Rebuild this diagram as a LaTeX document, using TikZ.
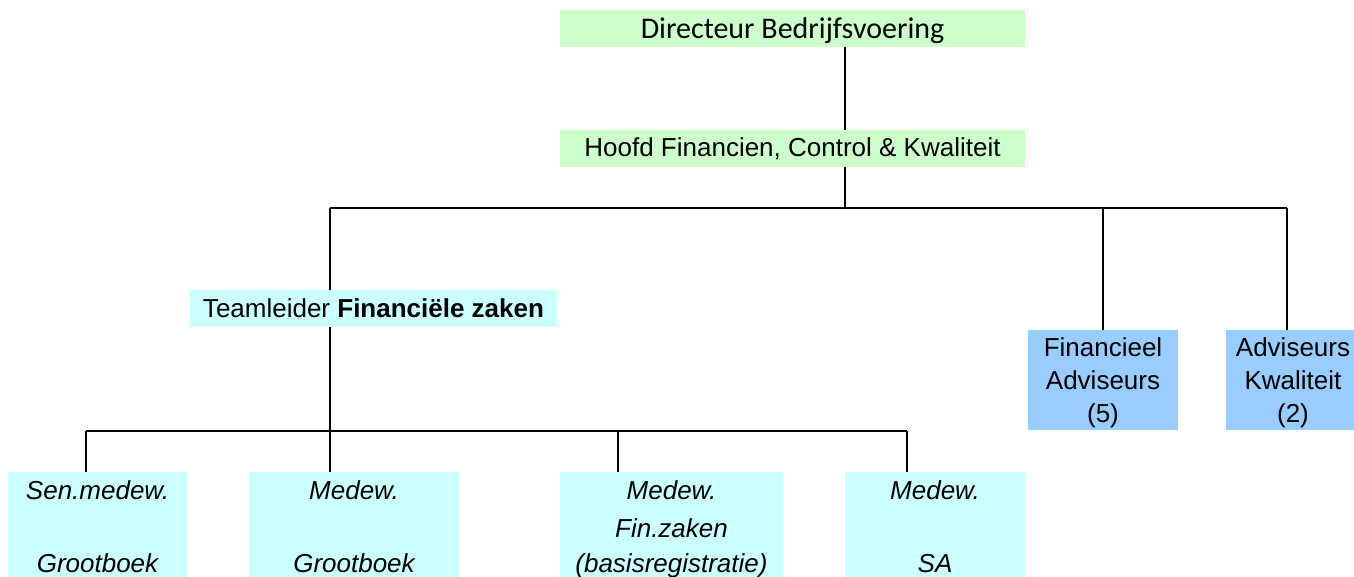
\documentclass[tikz,border=0pt]{standalone}
\usepackage{fontspec}
\setmainfont{Liberation Sans}
\newfontfamily\calfont{Carlito}
\definecolor{lichtgroen}{RGB}{204,255,204}
\definecolor{lichtcyaan}{RGB}{204,255,255}
\definecolor{lichtblauw}{RGB}{153,204,255}
\newcommand\op[1]{\rule{0pt}{#1}}
\begin{document}
\begin{tikzpicture}[x=0.5pt,y=-0.5pt,
  every node/.style={inner sep=0pt,align=center,font=\fontsize{13}{16.5}\selectfont},
  groen/.style={fill=lichtgroen,minimum width=232.5pt,minimum height=18.5pt},
  cyaan/.style={fill=lichtcyaan,minimum height=18.5pt},
  blauw/.style={fill=lichtblauw,minimum height=50pt},
  kop/.style={cyaan,font=\fontsize{13}{17.5}\selectfont\itshape},
  vak/.style={fill=lichtcyaan,minimum height=33pt,font=\fontsize{13}{17.5}\selectfont\itshape},
  lijn/.style={line width=0.8pt}]
\useasboundingbox (0,0) rectangle (1354,577);
\node[groen,font=\fontsize{15}{18}\selectfont\calfont] (dir) at (792.5,28.5) {\op{12.7pt}Directeur Bedrijfsvoering};
\node[groen] (hoofd) at (792.5,148.5) {Hoofd Financien, Control \& Kwaliteit};
\node[cyaan,minimum width=183.5pt] (team) at (373.5,308.5) {Teamleider \textbf{Financiële zaken}};
\node[blauw,minimum width=75pt] (fin) at (1103,380) {\op{12.5pt}Financieel\\Adviseurs\\(5)};
\node[blauw,minimum width=67pt] (kwal) at (1293,380) {\op{12.5pt}Adviseurs\\Kwaliteit\\(2)};
\node[kop,minimum width=89.5pt] (m1) at (97.5,490.5) {Sen.medew.};
\node[kop,minimum width=105pt] (m2) at (354,490.5) {Medew.};
\node[kop,minimum width=111.5pt] (m3) at (671.5,490.5) {Medew.};
\node[kop,minimum width=90pt] (m4) at (935,490.5) {Medew.};
\node[vak,minimum width=89.5pt] (v1) at (97.5,544) {\op{16.25pt}\\\strut Grootboek};
\node[vak,minimum width=105pt] (v2) at (354,544) {\op{16.25pt}\\\strut Grootboek};
\node[vak,minimum width=111.5pt] (v3) at (671.5,544) {\op{16.25pt}Fin.zaken\\\strut (basisregistratie)};
\node[vak,minimum width=90pt] (v4) at (935,544) {\op{16.25pt}\\\strut SA};
\coordinate (t) at (845,208);
\coordinate (a) at (330,208);
\coordinate (c) at (1287,208);
\coordinate (b1) at (86,431);
\coordinate (b3) at (618,431);
\coordinate (b4) at (907,431);
\draw[lijn] (dir.south -| t) -- (hoofd.north -| t);
\draw[lijn] (hoofd.south -| t) -- (t);
\draw[lijn] (a) -- (c);
\draw[lijn] (a) -- (a |- team.north);
\draw[lijn] (fin.north |- a) -- (fin.north);
\draw[lijn] (c) -- (c |- kwal.north);
\draw[lijn] (a |- team.south) -- (a |- m2.north);
\draw[lijn] (b1) -- (b4);
\draw[lijn] (b1) -- (b1 |- m1.north);
\draw[lijn] (b3) -- (b3 |- m3.north);
\draw[lijn] (b4) -- (b4 |- m4.north);
\end{tikzpicture}
\end{document}
